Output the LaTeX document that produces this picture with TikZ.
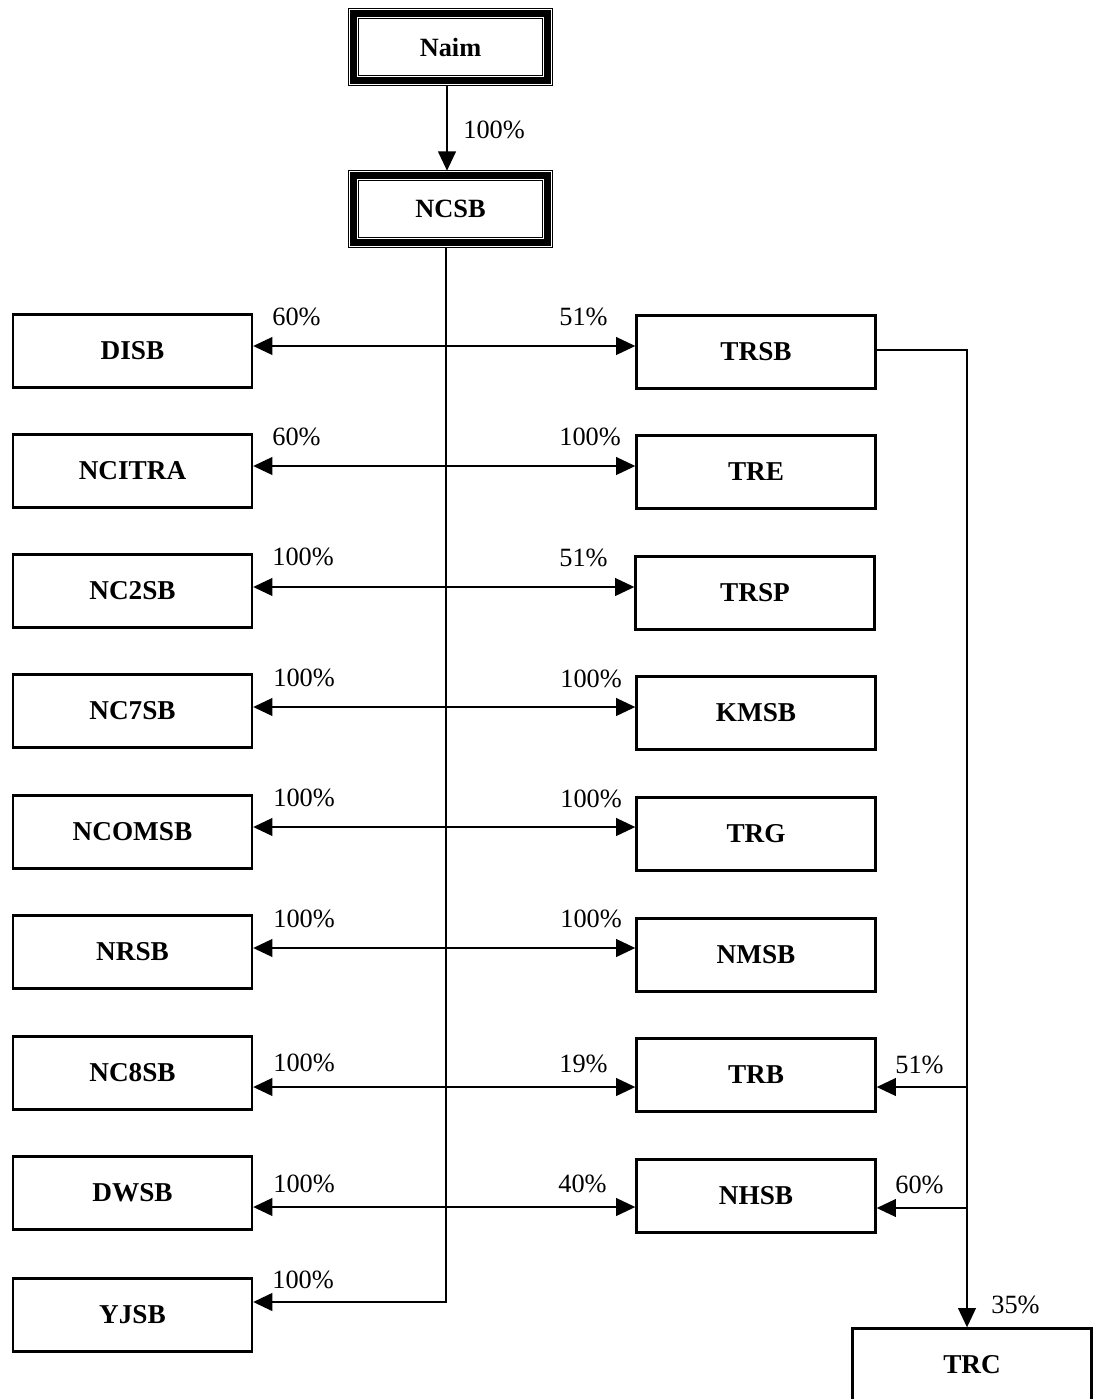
\documentclass[tikz,border=0pt]{standalone}
\usepackage{fontspec}
\setmainfont{Liberation Serif}
\usetikzlibrary{arrows.meta}

\tikzset{
  topbox/.style={rectangle, minimum width=3.88cm, minimum height=1.34cm,
    font=\bfseries\fontsize{15}{18}\selectfont,
    preaction={draw=black, line width=6.6pt},
    draw=white, line width=5.4pt,
    postaction={draw=black, line width=4.4pt}},
  subbox/.style={rectangle, draw, line width=1.3pt, minimum width=4.78cm,
    minimum height=1.46cm, font=\bfseries\fontsize{15.5}{18}\selectfont},
  pct/.style={anchor=west, inner sep=0pt, font=\fontsize{15}{18}\selectfont},
  link/.style={line width=1.4pt},
  arr/.style={link, -{Triangle[length=11pt,width=10pt]}}
}

\begin{document}
\begin{tikzpicture}[x=0.02cm, y=-0.02cm]
    \useasboundingbox (0,0) rectangle (1093,1399);

    % Holding companies
    \node[topbox] (naim) at (450.5,47) {Naim};
    \node[topbox] (ncsb) at (450.5,209) {NCSB};
    \draw[arr] (naim.south -| 447,0) -- (ncsb.north -| 447,0);
    \node[pct] (p0) at (463,130) {100\%};

    % Left subsidiaries
    \node[subbox] (disb) at (132.5,351) {DISB};
    \node[subbox] (ncitra) at (132.5,471) {NCITRA};
    \node[subbox] (nctwo) at (132.5,591) {NC2SB};
    \node[subbox] (ncseven) at (132.5,711) {NC7SB};
    \node[subbox] (ncomsb) at (132.5,832) {NCOMSB};
    \node[subbox] (nrsb) at (132.5,952) {NRSB};
    \node[subbox] (nceight) at (132.5,1073) {NC8SB};
    \node[subbox] (dwsb) at (132.5,1193) {DWSB};
    \node[subbox] (yjsb) at (132.5,1315) {YJSB};

    % Right subsidiaries
    \node[subbox] (trsb) at (756,352) {TRSB};
    \node[subbox] (tre) at (756,472) {TRE};
    \node[subbox] (trsp) at (755,593) {TRSP};
    \node[subbox] (kmsb) at (756,713) {KMSB};
    \node[subbox] (trg) at (756,834) {TRG};
    \node[subbox] (nmsb) at (756,955) {NMSB};
    \node[subbox] (trb) at (756,1075) {TRB};
    \node[subbox] (nhsb) at (756,1196) {NHSB};
    \node[subbox] (trc) at (972,1365) {TRC};

    % Main trunk from NCSB
    \coordinate (tend) at (446,1302);
    \draw[arr, line width=1.6pt] (ncsb.south -| tend) -- (tend) -- (tend -| yjsb.east);
    \node[pct] (p9l) at (272,1280) {100\%};

    % Rows off the trunk
    \coordinate (j1) at (446,346);
    \draw[arr] (j1) -- (j1 -| disb.east);
    \draw[arr] (j1) -- (j1 -| trsb.west);
    \node[pct] (p1l) at (272,317) {60\%};
    \node[pct] (p1r) at (559,317) {51\%};

    \coordinate (j2) at (446,466);
    \draw[arr] (j2) -- (j2 -| ncitra.east);
    \draw[arr] (j2) -- (j2 -| tre.west);
    \node[pct] (p2l) at (272,437) {60\%};
    \node[pct] (p2r) at (559,437) {100\%};

    \coordinate (j3) at (446,587);
    \draw[arr] (j3) -- (j3 -| nctwo.east);
    \draw[arr] (j3) -- (j3 -| trsp.west);
    \node[pct] (p3l) at (272,557) {100\%};
    \node[pct] (p3r) at (559,558) {51\%};

    \coordinate (j4) at (446,707);
    \draw[arr] (j4) -- (j4 -| ncseven.east);
    \draw[arr] (j4) -- (j4 -| kmsb.west);
    \node[pct] (p4l) at (273,678) {100\%};
    \node[pct] (p4r) at (560,679) {100\%};

    \coordinate (j5) at (446,827);
    \draw[arr] (j5) -- (j5 -| ncomsb.east);
    \draw[arr] (j5) -- (j5 -| trg.west);
    \node[pct] (p5l) at (273,798) {100\%};
    \node[pct] (p5r) at (560,799) {100\%};

    \coordinate (j6) at (446,948);
    \draw[arr] (j6) -- (j6 -| nrsb.east);
    \draw[arr] (j6) -- (j6 -| nmsb.west);
    \node[pct] (p6l) at (273,919) {100\%};
    \node[pct] (p6r) at (560,919) {100\%};

    \coordinate (j7) at (446,1087);
    \draw[arr] (j7) -- (j7 -| nceight.east);
    \draw[arr] (j7) -- (j7 -| trb.west);
    \node[pct] (p7l) at (273,1063) {100\%};
    \node[pct] (p7r) at (559,1064) {19\%};

    \coordinate (j8) at (446,1207);
    \draw[arr] (j8) -- (j8 -| dwsb.east);
    \draw[arr] (j8) -- (j8 -| nhsb.west);
    \node[pct] (p8l) at (273,1184) {100\%};
    \node[pct] (p8r) at (558,1184) {40\%};

    % TRSB branch
    \coordinate (rt) at (967,350);
    \draw[arr] (trsb.east |- rt) -- (rt) -- (rt |- trc.north);
    \coordinate (k1) at (967,1087);
    \coordinate (k2) at (967,1208);
    \draw[arr] (k1) -- (k1 -| trb.east);
    \draw[arr] (k2) -- (k2 -| nhsb.east);
    \node[pct] (q1) at (895,1065) {51\%};
    \node[pct] (q2) at (895,1185) {60\%};
    \node[pct] (q3) at (991,1305) {35\%};
\end{tikzpicture}
\end{document}
